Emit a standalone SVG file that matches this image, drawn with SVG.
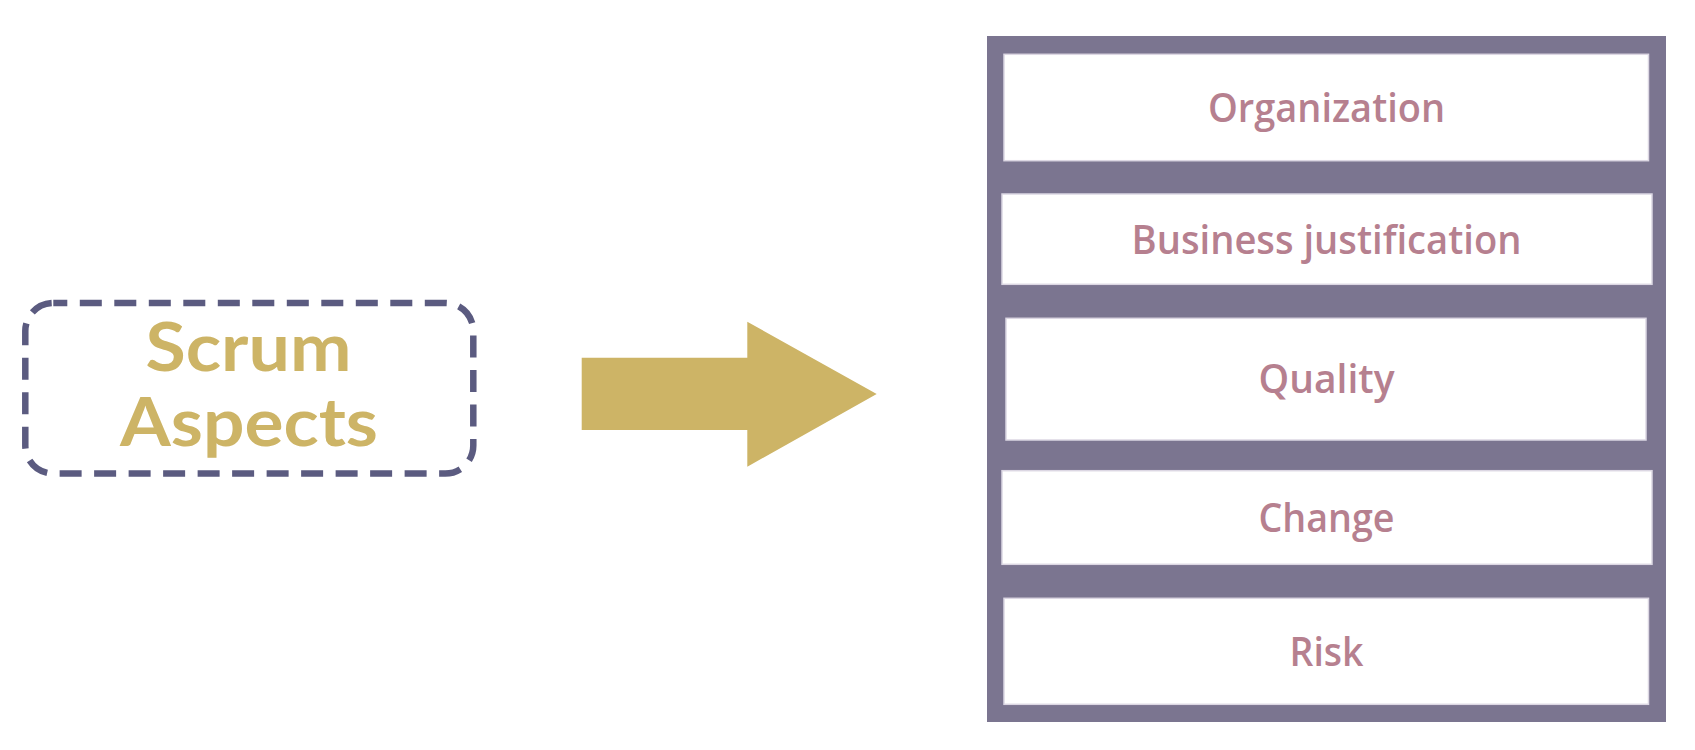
<svg xmlns="http://www.w3.org/2000/svg" width="1695" height="750" viewBox="0 0 1695 750">
  <style>
    .bg { fill: #ffffff; }
    .dash { fill: none; stroke: #5b5b80; stroke-width: 6.5; stroke-dasharray: 22 12.5; stroke-dashoffset: 8; }
    .gold { font-family: Lato, "Open Sans", "DejaVu Sans", sans-serif; font-weight: 700; font-size: 67px; fill: #cdb466; text-anchor: middle; }
    .frame { fill: #7b7590; }
    .item { fill: #ffffff; stroke: #dcd7e3; stroke-width: 1.5; }
    .lbl { font-family: "Open Sans", "Noto Sans", "DejaVu Sans", sans-serif; font-weight: 600; font-size: 39px; fill: #b6808f; text-anchor: middle; }
    .arrow { fill: #cdb466; }
  </style>
  <rect class="bg" x="0" y="0" width="1695" height="750"/>

  <g id="scrum-aspects">
    <rect class="dash" x="25.3" y="303" width="448" height="170.5" rx="28" ry="28"/>
    <text class="gold" x="248.5" y="370.7" textLength="206" lengthAdjust="spacingAndGlyphs">Scrum</text>
    <text class="gold" x="249" y="445.7" textLength="258" lengthAdjust="spacingAndGlyphs">Aspects</text>
  </g>

  <g id="connectors">
    <polygon class="arrow" points="581.7,357.7 747.3,357.7 747.3,321.7 876.7,394 747.3,466.7 747.3,430 581.7,430"/>
  </g>

  <g id="aspects-stack">
    <rect class="frame" x="987" y="36" width="679" height="686"/>
  </g>

  <g id="organization">
    <rect class="item" x="1004" y="54.3" width="644.5" height="106.4"/>
    <text class="lbl" x="1326.5" y="121.5" textLength="237" lengthAdjust="spacingAndGlyphs">Organization</text>
  </g>

  <g id="business-justification">
    <rect class="item" x="1002" y="194" width="650" height="90.3"/>
    <text class="lbl" x="1326.5" y="253.5" textLength="390" lengthAdjust="spacingAndGlyphs">Business justification</text>
  </g>

  <g id="quality">
    <rect class="item" x="1006" y="318.3" width="640" height="121.7"/>
    <text class="lbl" x="1326.5" y="393.3" textLength="136" lengthAdjust="spacingAndGlyphs">Quality</text>
  </g>

  <g id="change">
    <rect class="item" x="1002" y="470.7" width="650" height="93.6"/>
    <text class="lbl" x="1326.5" y="531.7" textLength="136" lengthAdjust="spacingAndGlyphs">Change</text>
  </g>

  <g id="risk">
    <rect class="item" x="1004" y="598.3" width="644.5" height="106"/>
    <text class="lbl" x="1326.5" y="666" textLength="74" lengthAdjust="spacingAndGlyphs">Risk</text>
  </g>
</svg>
